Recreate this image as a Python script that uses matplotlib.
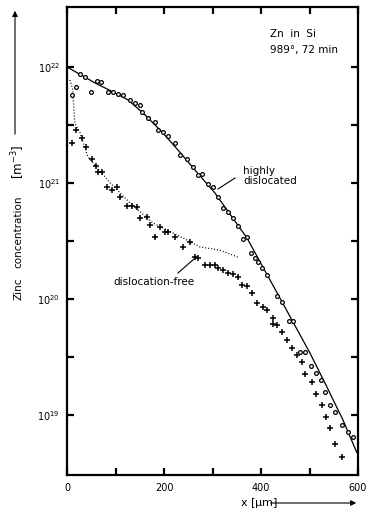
import matplotlib
matplotlib.use("Agg")
import matplotlib.pyplot as plt
from matplotlib.ticker import FixedLocator, NullLocator, NullFormatter, FixedFormatter

plt.rcParams['font.family'] = ['DejaVu Sans']
plt.rcParams['mathtext.fontset'] = 'dejavusans'

# ---- data (x in micrometres, concentration in m^-3) ----
fit_hd_x = [0, 58, 99, 126, 161, 196, 229, 264, 305, 371, 439, 501, 536, 569, 598]
fit_hd_c = [1.0e22, 7.28e21, 5.97e21, 5.2e21, 3.86e21, 2.75e21, 1.92e21, 1.29e21,
            8.2e20, 3.36e20, 1.02e20, 3.42e19, 1.74e19, 9.06e18, 4.7e18]

fit_df_x = [6, 12, 16, 27, 43, 54, 89, 130, 177, 239, 274, 315, 352]
fit_df_c = [7.73e21, 6.34e21, 3.29e21, 2.70e21, 1.68e21, 1.49e21, 1.0e21, 6.73e20,
            4.52e20, 3.36e20, 2.81e20, 2.64e20, 2.30e20]

hd_x = [10, 18, 27, 37, 62, 70, 50, 85, 95, 105, 115, 130, 140, 150, 155, 167, 181,
        188, 198, 208, 223, 233, 247, 260, 270, 278, 291, 301, 311, 322, 332, 342,
        352, 363, 371, 379, 387, 394, 402, 412, 433, 443, 458, 466, 480, 490, 503,
        513, 523, 532, 542, 552, 567, 579, 589]
hd_c = [5.74e21, 6.73e21, 8.71e21, 8.20e21, 7.57e21, 7.43e21, 6.08e21, 6.08e21,
        6.08e21, 5.85e21, 5.74e21, 5.20e21, 4.90e21, 4.70e21, 4.09e21, 3.63e21,
        3.36e21, 2.86e21, 2.75e21, 2.54e21, 2.21e21, 1.74e21, 1.61e21, 1.37e21,
        1.17e21, 1.20e21, 9.8e20, 9.24e20, 7.57e20, 6.08e20, 5.62e20, 4.99e20,
        4.26e20, 3.29e20, 3.42e20, 2.49e20, 2.25e20, 2.08e20, 1.85e20, 1.61e20,
        1.06e20, 9.42e19, 6.46e19, 6.46e19, 3.49e19, 3.49e19, 2.64e19, 2.30e19,
        2.00e19, 1.58e19, 1.22e19, 1.06e19, 8.20e18, 7.13e18, 6.46e18]

df_x = [10, 18, 31, 39, 52, 60, 64, 72, 82, 93, 103, 109, 124, 134, 144, 150, 165,
        171, 192, 202, 208, 181, 223, 239, 254, 264, 270, 284, 295, 305, 311, 322,
        332, 342, 352, 361, 371, 381, 392, 404, 412, 425, 425, 433, 443, 453, 464,
        474, 484, 490, 505, 513, 526, 534, 542, 552, 567]
df_c = [2.21e21, 2.86e21, 2.44e21, 2.04e21, 1.61e21, 1.40e21, 1.24e21, 1.24e21,
        9.24e20, 8.71e20, 9.24e20, 7.57e20, 6.34e20, 6.34e20, 6.21e20, 4.99e20,
        5.09e20, 4.35e20, 4.18e20, 3.78e20, 3.78e20, 3.42e20, 3.42e20, 2.81e20,
        3.10e20, 2.30e20, 2.25e20, 1.96e20, 1.96e20, 1.96e20, 1.85e20, 1.78e20,
        1.67e20, 1.64e20, 1.55e20, 1.32e20, 1.29e20, 1.13e20, 9.24e19, 8.53e19,
        8.04e19, 6.86e19, 6.08e19, 5.97e19, 5.20e19, 4.44e19, 3.78e19, 3.29e19,
        2.86e19, 2.25e19, 1.92e19, 1.52e19, 1.22e19, 9.62e18, 7.73e18, 5.62e18,
        4.35e18]

x_ticks = [0, 100, 200, 300, 400, 500, 600]
x_ticklabels = ['0', '', '200', '', '400', '', '600']
y_major = [1e19, 1e20, 1e21, 1e22]
y_labels = [r'$10^{19}$', r'$10^{20}$', r'$10^{21}$', r'$10^{22}$']
y_half = [10**19.5, 10**20.5, 10**21.5]

W, H = 386, 522
fig = plt.figure(figsize=(W/100, H/100), dpi=100)
ax = fig.add_axes([67/W, 1-475/H, (358-67)/W, (475-7)/H])
ax.set_yscale('log')
ax.set_xlim(0, 600)
ax.set_ylim(10**18.483, 10**22.517)

ax.plot(fit_hd_x, fit_hd_c, color='black', lw=0.9, solid_capstyle='butt')
ax.plot(fit_df_x, fit_df_c, color='black', lw=0.9, linestyle=(0, (0.8, 1.6)))
ax.plot(hd_x, hd_c, linestyle='none', marker='o', ms=2.7, mfc='white', mec='black', mew=0.9)
ax.plot(df_x, df_c, linestyle='none', marker='+', ms=4.0, mec='black', mew=1.1)

for s in ax.spines.values():
    s.set_linewidth(1.6)

ax.xaxis.set_major_locator(FixedLocator(x_ticks))
ax.xaxis.set_major_formatter(FixedFormatter(x_ticklabels))
ax.xaxis.set_minor_locator(NullLocator())
ax.yaxis.set_major_locator(FixedLocator(y_major))
ax.yaxis.set_major_formatter(FixedFormatter(y_labels))
ax.yaxis.set_minor_locator(FixedLocator(y_half))
ax.yaxis.set_minor_formatter(NullFormatter())
ax.tick_params(which='both', direction='in', top=True, right=True, length=5, width=1.6,
               labelsize=7, pad=5)
ax.tick_params(axis='x', pad=6)

def px(x, y):
    return x / W, 1 - y / H

# annotations
fig.text(*px(270, 29), 'Zn  in  Si', fontsize=7.5, va='top', ha='left')
fig.text(*px(270, 45), '989°, 72 min', fontsize=7.5, va='top', ha='left')
fig.text(*px(243, 166), 'highly\ndislocated', fontsize=7.5, va='top', ha='left', linespacing=1.0)
fig.text(*px(113, 277), 'dislocation-free', fontsize=7.5, va='top', ha='left')
fig.add_artist(plt.Line2D([235/W, 218/W], [1-178/H, 1-189/H], color='black', lw=0.8))
fig.add_artist(plt.Line2D([178/W, 194/W], [1-273/H, 1-259/H], color='black', lw=0.8))

# axis labels
fig.text(*px(18, 289), 'Zinc', rotation=90, fontsize=7.5, ha='center', va='center')
fig.text(*px(18, 232), 'concentration', rotation=90, fontsize=7.5, ha='center', va='center')
fig.text(*px(18, 162), r'$[\mathrm{m}^{-3}]$', rotation=90, fontsize=8.5, ha='center', va='center')
fig.add_artist(matplotlib.patches.FancyArrowPatch(px(15, 137), px(15, 8), transform=fig.transFigure,
               arrowstyle='-|>', mutation_scale=8, lw=0.8, color='black'))
fig.text(*px(240, 503), r'x $[\mathrm{\mu m}]$', fontsize=8, ha='left', va='center')
fig.add_artist(matplotlib.patches.FancyArrowPatch(px(268, 503), px(359, 503), transform=fig.transFigure,
               arrowstyle='-|>', mutation_scale=8, lw=0.8, color='black'))

fig.savefig('out.png', dpi=100)
